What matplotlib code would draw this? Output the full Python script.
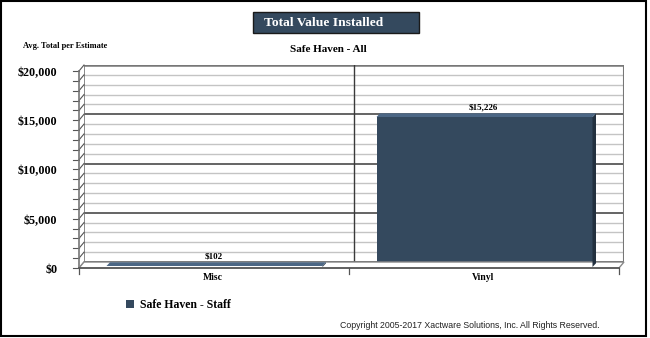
import matplotlib
matplotlib.use('Agg')
import matplotlib.pyplot as plt
import numpy as np
from matplotlib.patches import Polygon, Rectangle
from matplotlib.lines import Line2D
from matplotlib.transforms import IdentityTransform, ScaledTranslation, offset_copy

# chart data
categories = ['Misc', 'Vinyl']
values = [102, 15226]
value_labels = ['$102', '$15,226']
series_name = 'Safe Haven - Staff'
yticks = [0, 5000, 10000, 15000, 20000]
ytick_labels = ['$0', '$5,000', '$10,000', '$15,000', '$20,000']
title = 'Total Value Installed'
subtitle = 'Safe Haven - All'
ylabel = 'Avg. Total per Estimate'
copyright_text = 'Copyright 2005-2017 Xactware Solutions, Inc. All Rights Reserved.'

W, H = 650, 338
SERIF = 'Liberation Serif'
bar_front = '#34495e'
bar_top = '#4c6785'
bar_side = '#22303f'

fig = plt.figure(figsize=(W / 100, H / 100), dpi=100)
ax = fig.add_axes([84 / W, 1 - 262 / H, 540 / W, 197 / H])
ax.set_xlim(-0.5, 1.5)
ax.set_ylim(0, 20000)
for s in ax.spines.values():
    s.set_visible(False)

# depth of the wall/floor, in pixels (front is left and down)
DX, DY = 5, 6
BF = np.array([-4.5, -5.0])   # bar front face offset
BB = np.array([-1.0, -1.3])   # bar back face offset


def px(x, y, off=(0, 0)):
    return ax.transData.transform((x, y)) + np.asarray(off)


def seg(p, q, **kw):
    fig.add_artist(Line2D([p[0], q[0]], [p[1], q[1]], transform=IdentityTransform(), **kw))


# back wall grid
for v in range(0, 20001, 1000):
    major = v % 5000 == 0
    col = '#3a3a3a' if major else '#c4c4c4'
    ax.axhline(v, color=col, lw=1.1 if major else 1.0, zorder=1)
    b = px(-0.5, v)
    f = px(-0.5, v, (-DX, -DY))
    seg(b, f, color='#555555', lw=0.8, zorder=2)
    seg(f, f + (-6, 0), color='#555555', lw=0.8, zorder=2)
ax.axhline(20000, color='#777777', lw=1.8, zorder=2)
ax.axvline(-0.5, color='#777777', lw=1.2, zorder=2)
ax.axvline(0.5, color='#3a3a3a', lw=1.0, zorder=2)
ax.axvline(1.5, color='#777777', lw=1.5, zorder=2)

# left wall front edge
seg(px(-0.5, 0, (-DX, -DY)), px(-0.5, 20000, (-DX, -DY)), color='#777777', lw=1.2, zorder=2)

# floor
floor = [px(-0.5, 0), px(1.5, 0), px(1.5, 0, (-DX, -DY)), px(-0.5, 0, (-DX, -DY))]
fig.add_artist(Polygon(floor, closed=True, transform=IdentityTransform(),
                       fc='white', ec='#888888', lw=1.0, zorder=2))
seg(floor[3], floor[2], color='#555555', lw=1.2, zorder=2)
for xb in [-0.5, 0.5, 1.5]:
    f = px(xb, 0, (-DX, -DY))
    seg(f, f + (0, -6), color='#555555', lw=0.9, zorder=2)

# bars
xpos = np.arange(len(categories))
bars = ax.bar(xpos, values, width=0.8, color=bar_front, zorder=4, label=series_name)
front_tr = offset_copy(ax.transData, fig=fig, x=BF[0], y=BF[1], units='dots')
for r in bars:
    r.set_transform(front_tr)
    x0, w, h = r.get_x(), r.get_width(), r.get_height()
    top = [px(x0, h, BF), px(x0 + w, h, BF), px(x0 + w, h, BB), px(x0, h, BB)]
    side = [px(x0 + w, h, BF), px(x0 + w, h, BB), px(x0 + w, 0, BB), px(x0 + w, 0, BF)]
    fig.add_artist(Polygon(side, transform=IdentityTransform(), fc=bar_side, ec='none', zorder=3))
    fig.add_artist(Polygon(top, transform=IdentityTransform(), fc=bar_top, ec='none', zorder=3))

lab_tr = offset_copy(ax.transData, fig=fig, x=-5.5, y=0.5, units='dots')
for x, v, t in zip(xpos, values, value_labels):
    ax.text(x, v, t, transform=lab_tr, ha='center', va='bottom',
            fontsize=6.5, fontweight='bold', family=SERIF, zorder=6)

# ticks
ax.set_yticks(yticks, ytick_labels)
ax.set_xticks(xpos, categories)
ax.tick_params(axis='both', length=0)
ax.tick_params(axis='y', pad=19)
ax.tick_params(axis='x', pad=8)
for lbl in ax.get_yticklabels():
    lbl.set_transform(lbl.get_transform() + ScaledTranslation(0, -6.5 / 100, fig.dpi_scale_trans))
    lbl.set_fontsize(8.7)
    lbl.set_fontweight('bold')
    lbl.set_family(SERIF)
for lbl in ax.get_xticklabels():
    lbl.set_transform(lbl.get_transform() + ScaledTranslation(-6 / 100, 0, fig.dpi_scale_trans))
    lbl.set_fontsize(7)
    lbl.set_fontweight('bold')
    lbl.set_family(SERIF)

# legend
fig.legend(handles=[bars], labels=[series_name], loc='center left',
           bbox_to_anchor=(126 / W, 1 - 305 / H), frameon=False,
           handlelength=0.7, handleheight=0.7, handletextpad=0.5,
           borderpad=0, borderaxespad=0,
           prop={'family': SERIF, 'weight': 'bold', 'size': 8.5})

# title box and texts
fig.add_artist(Rectangle((253 / W, 1 - 33 / H), 166 / W, 21 / H, transform=fig.transFigure,
                         fc='#34495e', ec='#1a1a1a', lw=1.0))
fig.text(264 / W, 1 - 22.5 / H, title, ha='left', va='center', color='white',
         fontsize=9.7, fontweight='bold', family=SERIF)
fig.text(328 / W, 1 - 50 / H, subtitle, ha='center', va='center',
         fontsize=8, fontweight='bold', family=SERIF)
fig.text(23 / W, 1 - 46.5 / H, ylabel, ha='left', va='center',
         fontsize=6, fontweight='bold', family=SERIF)
fig.text(599 / W, 1 - 325 / H, copyright_text, ha='right', va='center',
         fontsize=6.3, family='Liberation Sans', color='#222222')

# outer frame
fig.add_artist(Rectangle((1 / W, 1 - 336 / H), 645 / W, 335 / H, transform=fig.transFigure,
                         fill=False, ec='black', lw=1.5))

fig.savefig('out.png', dpi=100)
